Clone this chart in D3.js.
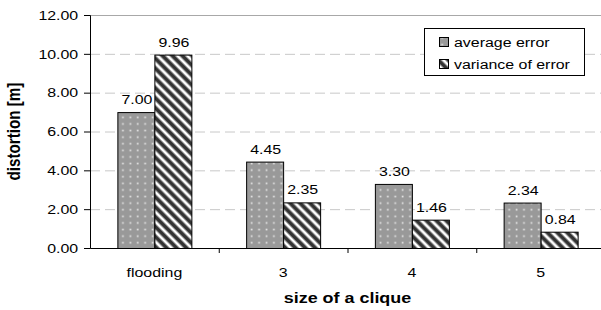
<!DOCTYPE html>
<meta charset="utf-8">
<script src="https://cdn.jsdelivr.net/npm/d3@7"></script>
<style>
body{margin:0;background:#fff;}
text{font-family:"Liberation Sans",Arial,sans-serif;fill:#000;}
</style>
<div id="vis"></div>
<script>

// data
var categories = ["flooding", "3", "4", "5"];
var seriesNames = ["average error", "variance of error"];
var avgError = [7.00, 4.45, 3.30, 2.34];
var varError = [9.96, 2.35, 1.46, 0.84];
var yTicks = [0, 2, 4, 6, 8, 10, 12];

var w = 601, h = 310;
var margin = {top: 15, right: -4, bottom: 62, left: 90};
var width = w - margin.left - margin.right,
    height = h - margin.top - margin.bottom;
var sx = 1.18; // the picture is stretched sideways

var svg = d3.select("#vis").append("svg")
    .attr("width", w)
    .attr("height", h);

// fill patterns
var defs = svg.append("defs");
var dots = defs.append("pattern")
    .attr("id", "dots")
    .attr("patternUnits", "userSpaceOnUse")
    .attr("width", 7.4).attr("height", 6.6);
dots.append("rect").attr("width", 7.4).attr("height", 6.6).attr("fill", "#999");
dots.append("rect").attr("x", 2.5).attr("y", 2.5).attr("width", 1.7).attr("height", 1.7).attr("fill", "#e4e4e4");

var stripes = defs.append("pattern")
    .attr("id", "stripes")
    .attr("patternUnits", "userSpaceOnUse")
    .attr("width", 7).attr("height", 7)
    .attr("patternTransform", "rotate(-45)");
stripes.append("rect").attr("width", 7).attr("height", 7).attr("fill", "#fff");
stripes.append("rect").attr("x", 0).attr("width", 3).attr("height", 7).attr("fill", "#333");
stripes.append("rect").attr("x", 3).attr("width", 0.9).attr("height", 7).attr("fill", "#8a8a8a");
stripes.append("rect").attr("x", 6.1).attr("width", 0.9).attr("height", 7).attr("fill", "#8a8a8a");

var fills = ["url(#dots)", "url(#stripes)"];

var g = svg.append("g")
    .attr("transform", "translate(" + margin.left + "," + margin.top + ")");

var x = d3.scaleBand().domain(categories).range([0, width]).paddingInner(0).paddingOuter(0);
var x1 = d3.scaleBand().domain([0, 1]).range([x.bandwidth() / 2 - 37, x.bandwidth() / 2 + 37]);
var y = d3.scaleLinear().domain([0, 12]).range([height, 0]);

// gridlines
g.selectAll(".grid")
    .data(yTicks.filter(function(d) { return d > 0; }))
  .enter().append("line")
    .attr("x1", 0).attr("x2", width)
    .attr("y1", function(d) { return y(d) + 0.5; })
    .attr("y2", function(d) { return y(d) + 0.5; })
    .attr("stroke", function(d) { return d == 12 ? "#a8a8a8" : "#c8c8c8"; })
    .attr("stroke-dasharray", function(d) { return d == 12 ? null : "10,5"; });

// bars
var rows = categories.map(function(c, i) { return {cat: c, vals: [avgError[i], varError[i]]}; });
var groups = g.selectAll(".grp").data(rows).enter().append("g")
    .attr("transform", function(d) { return "translate(" + x(d.cat) + ",0)"; });

groups.selectAll("rect")
    .data(function(d) { return d.vals.map(function(v, k) { return {k: k, v: v}; }); })
  .enter().append("rect")
    .attr("x", function(d) { return x1(d.k) + 0.5; })
    .attr("y", function(d) { return y(d.v) + 0.5; })
    .attr("width", x1.bandwidth())
    .attr("height", function(d) { return height - y(d.v); })
    .attr("fill", function(d) { return fills[d.k]; })
    .attr("stroke", "#000")
    .attr("stroke-width", 1);

groups.selectAll(".lbl")
    .data(function(d) { return d.vals.map(function(v, k) { return {k: k, v: v}; }); })
  .enter().append("text")
    .attr("transform", function(d) {
        return "translate(" + (x1(d.k) + x1.bandwidth() / 2 + 1) + "," + (y(d.v) - 8) + ") scale(" + sx + ",1)";
    })
    .attr("text-anchor", "middle")
    .style("font-size", "13.5px")
    .text(function(d) { return d3.format(".2f")(d.v); });

// axes
var yAxis = g.append("g")
    .call(d3.axisLeft(y).tickValues(yTicks).tickSize(6).tickPadding(4).tickFormat(d3.format(".2f")));
yAxis.selectAll("text").style("font-size", "13.5px").attr("transform", "scale(" + sx + ",1)");
yAxis.select(".domain").attr("stroke", "#000");

var xAxis = g.append("g")
    .attr("transform", "translate(0," + height + ")")
    .call(d3.axisBottom(x).tickSize(0).tickPadding(19));
xAxis.selectAll("text").style("font-size", "13.5px").attr("transform", "scale(" + sx + ",1)");
xAxis.select(".domain").attr("stroke", "#000");
xAxis.selectAll(".sep")
    .data(categories.slice(1))
  .enter().append("line")
    .attr("x1", function(d) { return x(d) + 0.5; })
    .attr("x2", function(d) { return x(d) + 0.5; })
    .attr("y1", 0).attr("y2", 5)
    .attr("stroke", "#000");

// axis titles
svg.append("text")
    .attr("transform", "translate(20," + (margin.top + height / 2) + ") scale(" + sx + ",1) rotate(-90)")
    .attr("text-anchor", "middle")
    .style("font-size", "15.2px").style("font-weight", "bold")
    .text("distortion [m]");

svg.append("text")
    .attr("transform", "translate(" + (margin.left + width / 2) + ",303) scale(" + sx + ",1)")
    .attr("text-anchor", "middle")
    .style("font-size", "15.2px").style("font-weight", "bold")
    .text("size of a clique");

// legend
var legend = svg.append("g").attr("transform", "translate(424,28)");
legend.append("rect")
    .attr("x", 0.5).attr("y", 0.5).attr("width", 160).attr("height", 47)
    .attr("fill", "#fff").attr("stroke", "#000");
seriesNames.forEach(function(s, i) {
    legend.append("rect")
        .attr("x", 15.5).attr("y", 9.5 + i * 22).attr("width", 9).attr("height", 9)
        .attr("fill", fills[i]).attr("stroke", "#000");
    legend.append("text")
        .attr("transform", "translate(30," + (18.5 + i * 22) + ") scale(" + sx + ",1)")
        .style("font-size", "13.5px")
        .text(s);
});

</script>
